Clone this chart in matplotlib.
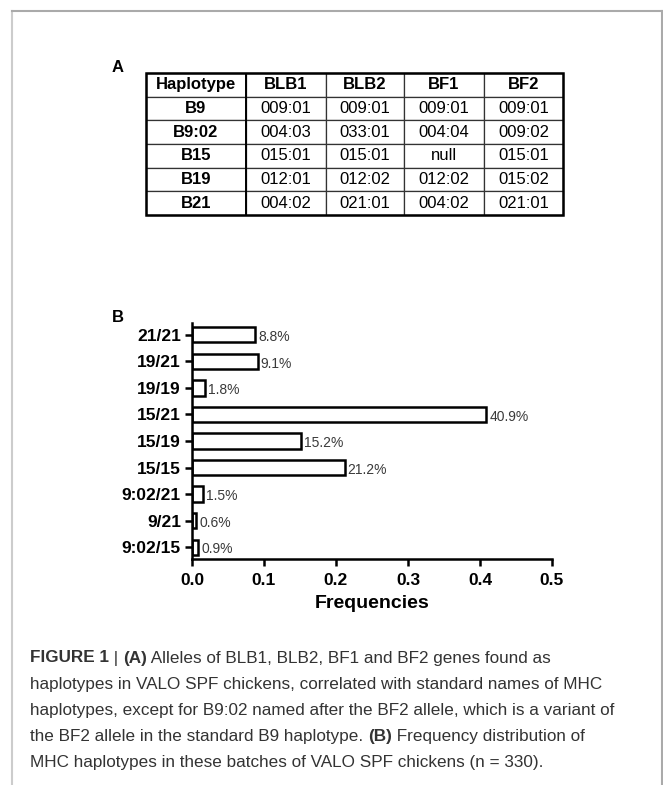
import matplotlib
matplotlib.use('Agg')
import matplotlib.pyplot as plt
from matplotlib.patches import Rectangle
from matplotlib.lines import Line2D

plt.rcParams['font.family'] = ['Liberation Sans', 'DejaVu Sans']

# ---- data ----
table_header = ['Haplotype', 'BLB1', 'BLB2', 'BF1', 'BF2']
haplotypes = ['B9', 'B9:02', 'B15', 'B19', 'B21']
blb1 = ['009:01', '004:03', '015:01', '012:01', '004:02']
blb2 = ['009:01', '033:01', '015:01', '012:02', '021:01']
bf1 = ['009:01', '004:04', 'null', '012:02', '004:02']
bf2 = ['009:01', '009:02', '015:01', '015:02', '021:01']

genotypes = ['21/21', '19/21', '19/19', '15/21', '15/19', '15/15',
             '9:02/21', '9/21', '9:02/15']
frequencies = [0.088, 0.091, 0.018, 0.409, 0.152, 0.212, 0.015, 0.006, 0.009]
pct_labels = ['8.8%', '9.1%', '1.8%', '40.9%', '15.2%', '21.2%', '1.5%', '0.6%', '0.9%']

caption_lines = [
    [('FIGURE 1', True), (' | ', False), ('(A)', True),
     (' Alleles of BLB1, BLB2, BF1 and BF2 genes found as', False)],
    [('haplotypes in VALO SPF chickens, correlated with standard names of MHC', False)],
    [('haplotypes, except for B9:02 named after the BF2 allele, which is a variant of', False)],
    [('the BF2 allele in the standard B9 haplotype. ', False), ('(B)', True),
     (' Frequency distribution of', False)],
    [('MHC haplotypes in these batches of VALO SPF chickens (n = 330).', False)],
]

W, H = 663, 785
fig = plt.figure(figsize=(W / 100, H / 100), dpi=100)

def fx(px):
    return px / W

def fy(py):
    return 1 - py / H

# ---- page frame ----
fig.add_artist(Line2D([fx(12), fx(12)], [fy(11), 0], color='#cccccc', lw=1.5))
fig.add_artist(Line2D([fx(12), fx(662)], [fy(11), fy(11)], color='#aaaaaa', lw=1.5))
fig.add_artist(Line2D([fx(662), fx(662)], [fy(11), 0], color='#aaaaaa', lw=1.5))

# ---- panel A: table ----
tl, tr, tt, tb = 146, 563, 73, 215
col_edges = [146, 246, 326, 404, 484, 563]
tax = fig.add_axes([fx(tl), fy(tb), fx(tr - tl), (tb - tt) / H])
tax.axis('off')
cell_text = [list(r) for r in zip(haplotypes, blb1, blb2, bf1, bf2)]
widths = [(col_edges[i + 1] - col_edges[i]) / (tr - tl) for i in range(5)]
tbl = tax.table(cellText=cell_text, colLabels=table_header, colWidths=widths,
                cellLoc='center', bbox=[0, 0, 1, 1])
tbl.auto_set_font_size(False)
for (r, c), cell in tbl.get_celld().items():
    cell.set_linewidth(0.9)
    cell.set_edgecolor('#333333')
    txt = cell.get_text()
    txt.set_fontsize(12)
    if r == 0 or c == 0:
        txt.set_fontweight('bold')
tax.add_patch(Rectangle((0, 0), 1, 1, fill=False, lw=1.8, ec='black',
                        transform=tax.transAxes, clip_on=False, zorder=5))
hap_w = widths[0]
tax.add_artist(Line2D([hap_w, hap_w], [0, 1], color='black', lw=1.4,
                      transform=tax.transAxes, zorder=5))
fig.text(fx(118), fy(67), 'A', fontsize=12, fontweight='bold', ha='center', va='center')

# ---- panel B: bar chart ----
cl, cr, ct, cb = 192, 552, 323, 559
ax = fig.add_axes([fx(cl), fy(cb), fx(cr - cl), (cb - ct) / H])
ypos = list(range(len(genotypes)))[::-1]
ax.barh(ypos, frequencies, height=0.57, color='white', edgecolor='black', linewidth=1.8)
for y, v, lab in zip(ypos, frequencies, pct_labels):
    ax.text(v + 0.004, y - 0.08, lab, va='center', ha='left', fontsize=10, color='#3a3a3a')
ax.set_xlim(0, 0.5)
ax.set_ylim(-0.45, len(genotypes) - 0.55)
ax.set_yticks(ypos)
ax.set_yticklabels(genotypes, fontsize=12.5, fontweight='bold')
ax.set_xticks([0, 0.1, 0.2, 0.3, 0.4, 0.5])
ax.set_xticklabels(['0.0', '0.1', '0.2', '0.3', '0.4', '0.5'], fontsize=12.5, fontweight='bold')
ax.set_xlabel('Frequencies', fontsize=14, fontweight='bold', labelpad=5)
for s in ['top', 'right']:
    ax.spines[s].set_visible(False)
for s in ['left', 'bottom']:
    ax.spines[s].set_linewidth(1.8)
ax.tick_params(axis='both', width=1.8, length=5)
ax.tick_params(axis='y', pad=3)
ax.tick_params(axis='x', pad=5)
fig.text(fx(118), fy(318), 'B', fontsize=12, fontweight='bold', ha='center', va='center')

# ---- caption ----
renderer = fig.canvas.get_renderer()
line_y = [658, 684, 710, 736, 762]
for runs, yy in zip(caption_lines, line_y):
    x = 30
    for s, bold in runs:
        t = fig.text(fx(x), fy(yy), s, fontsize=12.3, color='#333333',
                     fontweight='bold' if bold else 'normal',
                     va='center', ha='left')
        x += t.get_window_extent(renderer=renderer).width

fig.savefig('out.png', dpi=100)
